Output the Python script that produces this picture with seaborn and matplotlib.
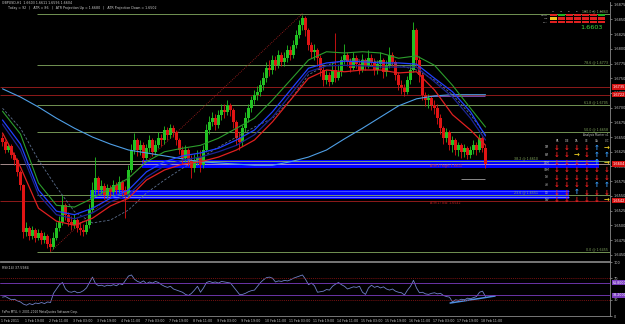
import numpy as np
import pandas as pd
import matplotlib
matplotlib.use("Agg")
import matplotlib.pyplot as plt
from matplotlib.patches import Rectangle
import seaborn as sns

# ---------------- data (2h bars) ----------------
first_open = 1.6648
close = [1.6642, 1.6628, 1.6635, 1.6620, 1.6611, 1.6591, 1.6568, 1.6489, 1.6495, 1.6482,
         1.6492, 1.6478, 1.6487, 1.6475, 1.6482, 1.6468, 1.6463, 1.6478, 1.6495, 1.6506,
         1.6534, 1.6518, 1.6506, 1.6500, 1.6509, 1.6495, 1.6492, 1.6489, 1.6500, 1.6526,
         1.6560, 1.6580, 1.6560, 1.6567, 1.6552, 1.6563, 1.6557, 1.6568, 1.6560, 1.6574,
         1.6560, 1.6552, 1.6594, 1.6628, 1.6645, 1.6628, 1.6636, 1.6614, 1.6631, 1.6645,
         1.6625, 1.6636, 1.6648, 1.6645, 1.6662, 1.6654, 1.6665, 1.6659, 1.6645, 1.6628,
         1.6614, 1.6628, 1.6611, 1.6597, 1.6611, 1.6614, 1.6602, 1.6628, 1.6662, 1.6676,
         1.6682, 1.6670, 1.6688, 1.6696, 1.6693, 1.6704, 1.6696, 1.6676, 1.6648, 1.6642,
         1.6665, 1.6682, 1.6699, 1.6713, 1.6722, 1.6727, 1.6738, 1.6750, 1.6767, 1.6764,
         1.6781, 1.6772, 1.6790, 1.6778, 1.6784, 1.6798, 1.6790, 1.6806, 1.6824, 1.6840,
         1.6852, 1.6832, 1.6806, 1.6795, 1.6798, 1.6784, 1.6764, 1.6747, 1.6756, 1.6744,
         1.6764, 1.6750, 1.6761, 1.6781, 1.6790, 1.6778, 1.6767, 1.6784, 1.6774, 1.6764,
         1.6781, 1.6771, 1.6784, 1.6778, 1.6764, 1.6774, 1.6781, 1.6761, 1.6772, 1.6790,
         1.6778, 1.6756, 1.6738, 1.6733, 1.6727, 1.6747, 1.6764, 1.6832, 1.6781, 1.6756,
         1.6722, 1.6713, 1.6716, 1.6704, 1.6699, 1.6682, 1.6665, 1.6648, 1.6659, 1.6636,
         1.6645, 1.6628, 1.6636, 1.6625, 1.6631, 1.6620, 1.6628, 1.6636, 1.6628, 1.6648,
         1.6631, 1.6604]
high = [1.6655, 1.6645, 1.6640, 1.6638, 1.6625, 1.6614, 1.6594, 1.6570, 1.6506, 1.6499,
        1.6499, 1.6495, 1.6494, 1.6492, 1.6489, 1.6485, 1.6478, 1.6489, 1.6506, 1.6516,
        1.6552, 1.6538, 1.6523, 1.6516, 1.6519, 1.6512, 1.6506, 1.6502, 1.6509, 1.6536,
        1.6574, 1.6616, 1.6584, 1.6577, 1.6572, 1.6570, 1.6568, 1.6577, 1.6574, 1.6584,
        1.6577, 1.6567, 1.6602, 1.6638, 1.6657, 1.6648, 1.6645, 1.6642, 1.6638, 1.6654,
        1.6648, 1.6645, 1.6659, 1.6655, 1.6669, 1.6667, 1.6672, 1.6670, 1.6662, 1.6648,
        1.6635, 1.6636, 1.6631, 1.6620, 1.6621, 1.6628, 1.6628, 1.6636, 1.6672, 1.6686,
        1.6693, 1.6689, 1.6696, 1.6706, 1.6706, 1.6713, 1.6708, 1.6699, 1.6679, 1.6659,
        1.6670, 1.6693, 1.6706, 1.6720, 1.6730, 1.6737, 1.6747, 1.6761, 1.6778, 1.6781,
        1.6790, 1.6788, 1.6798, 1.6795, 1.6795, 1.6806, 1.6805, 1.6815, 1.6832, 1.6849,
        1.6858, 1.6856, 1.6835, 1.6812, 1.6808, 1.6801, 1.6790, 1.6771, 1.6764, 1.6761,
        1.6778, 1.6827, 1.6774, 1.6788, 1.6808, 1.6795, 1.6784, 1.6795, 1.6790, 1.6781,
        1.6791, 1.6784, 1.6798, 1.6791, 1.6784, 1.6781, 1.6795, 1.6784, 1.6781, 1.6803,
        1.6795, 1.6781, 1.6761, 1.6747, 1.6740, 1.6754, 1.6774, 1.6846, 1.6835, 1.6788,
        1.6761, 1.6727, 1.6723, 1.6720, 1.6713, 1.6706, 1.6689, 1.6669, 1.6665, 1.6662,
        1.6652, 1.6648, 1.6642, 1.6640, 1.6638, 1.6635, 1.6635, 1.6645, 1.6642, 1.6655,
        1.6652, 1.6636]
low = [1.6635, 1.6623, 1.6625, 1.6614, 1.6602, 1.6584, 1.6560, 1.6478, 1.6482, 1.6475,
       1.6477, 1.6472, 1.6475, 1.6468, 1.6470, 1.6461, 1.6456, 1.6460, 1.6475, 1.6490,
       1.6500, 1.6509, 1.6499, 1.6492, 1.6495, 1.6489, 1.6484, 1.6482, 1.6485, 1.6495,
       1.6523, 1.6553, 1.6552, 1.6553, 1.6545, 1.6546, 1.6548, 1.6552, 1.6553, 1.6555,
       1.6550, 1.6512, 1.6546, 1.6591, 1.6621, 1.6618, 1.6620, 1.6608, 1.6611, 1.6625,
       1.6618, 1.6620, 1.6631, 1.6635, 1.6638, 1.6645, 1.6648, 1.6650, 1.6636, 1.6621,
       1.6606, 1.6608, 1.6601, 1.6580, 1.6591, 1.6602, 1.6591, 1.6597, 1.6625, 1.6655,
       1.6669, 1.6662, 1.6665, 1.6679, 1.6682, 1.6688, 1.6686, 1.6665, 1.6636, 1.6628,
       1.6635, 1.6659, 1.6676, 1.6693, 1.6706, 1.6713, 1.6720, 1.6730, 1.6744, 1.6754,
       1.6757, 1.6764, 1.6767, 1.6771, 1.6771, 1.6778, 1.6781, 1.6784, 1.6801, 1.6818,
       1.6832, 1.6822, 1.6798, 1.6784, 1.6781, 1.6771, 1.6754, 1.6737, 1.6740, 1.6737,
       1.6740, 1.6744, 1.6747, 1.6754, 1.6774, 1.6771, 1.6761, 1.6764, 1.6767, 1.6757,
       1.6761, 1.6764, 1.6767, 1.6771, 1.6756, 1.6757, 1.6767, 1.6750, 1.6754, 1.6767,
       1.6771, 1.6747, 1.6730, 1.6723, 1.6720, 1.6723, 1.6740, 1.6761, 1.6771, 1.6744,
       1.6713, 1.6703, 1.6699, 1.6696, 1.6689, 1.6672, 1.6655, 1.6638, 1.6642, 1.6628,
       1.6625, 1.6620, 1.6618, 1.6614, 1.6616, 1.6613, 1.6614, 1.6621, 1.6620, 1.6625,
       1.6625, 1.6597]

# moving averages, read every 6th bar
ma_idx = list(range(0, 162, 6)) + [161]
ma_high = [1.6694, 1.6655, 1.6572, 1.6534, 1.6531, 1.6546, 1.6563, 1.6580, 1.6608, 1.6625,
           1.6631, 1.6636, 1.6648, 1.6665, 1.6682, 1.6713, 1.6747, 1.6781, 1.6795, 1.6793,
           1.6795, 1.6793, 1.6784, 1.6788, 1.6772, 1.6738, 1.6699, 1.6667]
ma_close = [1.6679, 1.6638, 1.6560, 1.6524, 1.6518, 1.6529, 1.6546, 1.6560, 1.6591, 1.6608,
            1.6618, 1.6623, 1.6631, 1.6645, 1.6662, 1.6693, 1.6730, 1.6767, 1.6776, 1.6779,
            1.6778, 1.6776, 1.6776, 1.6774, 1.6750, 1.6727, 1.6693, 1.6652]
ma_mid = [1.6672, 1.6628, 1.6552, 1.6518, 1.6511, 1.6521, 1.6540, 1.6552, 1.6582, 1.6601,
          1.6611, 1.6616, 1.6625, 1.6636, 1.6654, 1.6684, 1.6722, 1.6761, 1.6771, 1.6772,
          1.6771, 1.6769, 1.6769, 1.6769, 1.6744, 1.6718, 1.6682, 1.6645]
ma_low = [1.6657, 1.6599, 1.6529, 1.6507, 1.6500, 1.6512, 1.6533, 1.6546, 1.6577, 1.6594,
          1.6604, 1.6608, 1.6616, 1.6628, 1.6645, 1.6676, 1.6713, 1.6750, 1.6764, 1.6761,
          1.6764, 1.6764, 1.6759, 1.6761, 1.6730, 1.6688, 1.6662, 1.6636]
ma_dash = [1.6699, 1.6665, 1.6611, 1.6565, 1.6523, 1.6504, 1.6509, 1.6526, 1.6555, 1.6577,
           1.6597, 1.6614, 1.6633, 1.6650, 1.6667, 1.6682, 1.6713, 1.6756, 1.6772, 1.6781,
           1.6781, 1.6778, 1.6772, 1.6764, 1.6747, 1.6722, 1.6688, 1.6654]
ma_long = [1.6732, 1.6718, 1.6701, 1.6682, 1.6665, 1.6650, 1.6638, 1.6628, 1.6623, 1.6618,
           1.6613, 1.6608, 1.6606, 1.6604, 1.6602, 1.6602, 1.6608, 1.6616, 1.6628, 1.6647,
           1.6665, 1.6684, 1.6703, 1.6715, 1.6720, 1.6722, 1.6722, 1.6722]

fib_pct = [0.0, 23.6, 38.2, 50.0, 61.8, 78.6, 100.0]
fib_price = [1.6455, 1.6551, 1.6610, 1.6658, 1.6705, 1.6773, 1.6860]
fib_low_bar, fib_high_bar = 16, 100

red_levels = [1.6735, 1.6722, 1.6542]
bid = 1.6604
zone_high = [1.6611, 1.6597]
zone_low = [1.6560, 1.6545]

rsi = [35, 36, 33, 30, 31, 28, 26, 22, 20, 23, 21, 24, 23, 25, 23, 26, 25, 42, 50, 58,
       62, 50, 45, 44, 46, 43, 44, 47, 52, 62, 72, 60, 56, 57, 55, 57, 56, 58, 56, 60,
       58, 66, 74, 76, 68, 64, 62, 65, 60, 63, 61, 64, 62, 58, 55, 53, 55, 50, 48, 46,
       44, 40, 38, 42, 48, 55, 44, 52, 62, 64, 62, 63, 61, 64, 63, 62, 61, 54, 47, 40,
       40, 42, 45, 47, 48, 55, 62, 67, 71, 72, 70, 63, 65, 64, 66, 65, 67, 70, 72, 74,
       76, 68, 58, 61, 56, 44, 45, 46, 49, 48, 55, 59, 62, 58, 55, 50, 52, 54, 53, 55,
       44, 40, 52, 57, 53, 55, 52, 54, 50, 48, 50, 46, 44, 43, 39, 48, 55, 66, 52, 43,
       44, 41, 40, 42, 43, 41, 42, 38, 36, 35, 26, 30, 29, 31, 30, 33, 32, 34, 36, 44,
       46, 36]
rsi_trend_x = [149.2, 164.2]
rsi_trend_y = [24, 37]

time_labels = ["1 Feb 2011", "1 Feb 19:00", "2 Feb 11:00", "3 Feb 03:00", "3 Feb 19:00",
               "4 Feb 11:00", "7 Feb 03:00", "7 Feb 19:00", "8 Feb 11:00", "9 Feb 03:00",
               "9 Feb 19:00", "10 Feb 11:00", "11 Feb 03:00", "11 Feb 19:00", "14 Feb 11:00",
               "15 Feb 03:00", "15 Feb 19:00", "16 Feb 11:00", "17 Feb 03:00", "17 Feb 19:00",
               "18 Feb 11:00"]

tf_rows = ["1M", "5M", "15M", "30M", "1H", "4H", "1D", "1W"]
tf_cols = ["PA", "DIE", "TA", "CE", "CA", "C/C"]
signals = ["DDDDUR", "DDRDUU", "DDDDUR", "DDDDDD", "DDDDDD", "DDDDUU", "DDUDDD", "DDDDDR"]

box_cols = ["M1", "M5", "15", "30", "H1", "H4", "D1"]
box_rows = ["MACD", "STR", "EMA"]
box_state = ["RGRRRRG", "YRRRRRR", "RRRRRRR"]

# ---------------- style ----------------
sns.set_style("dark", {"axes.facecolor": "black", "figure.facecolor": "black",
                       "axes.edgecolor": "#8a8a8a", "text.color": "#d0d0d0",
                       "xtick.color": "#c8c8c8", "ytick.color": "#c8c8c8"})
plt.rcParams["font.family"] = ["DejaVu Sans"]

bull, bear = "#22c322", "#e01414"
fib_col = "#84aa60"

fig = plt.figure(figsize=(6.25, 3.24), dpi=100, facecolor="black")
ax = fig.add_axes([0, 63 / 324, 610 / 625, 259 / 324])
rax = fig.add_axes([0, 8 / 324, 610 / 625, 54 / 324])

df = pd.DataFrame({"close": close, "high": high, "low": low})
df["open"] = [first_open] + close[:-1]
df["col"] = np.where(df["close"] >= df["open"], bull, bear)

xmin, xmax = -0.83, 202.5

# zones
for top, bot, start, end in [(zone_high[0], zone_high[1], 46.5, 199), (zone_low[0], zone_low[1], 29.2, 189)]:
    ax.add_patch(Rectangle((start, bot), end - start, top - bot, fc="#0000ff", ec="none", zorder=1))
    ax.hlines(top - 0.00015, start, end, color="#4a5cff", lw=0.6, zorder=1)
ax.hlines(zone_low[1] + 0.00025, 29.2, 189, color="#9fb0ff", lw=0.5, zorder=1)

# horizontal levels
ax.hlines(fib_price, 11.5, xmax, color=fib_col, lw=0.6, zorder=1.5)
ax.hlines(red_levels, xmin, xmax, color="#8e1a1a", lw=0.7, zorder=1.5)
ax.hlines(bid, xmin, xmax, color="#e6c2c2", lw=0.5, zorder=1.6)
ax.plot([fib_low_bar, fib_high_bar], [fib_price[0], fib_price[-1]], color="#b02020",
        lw=0.6, ls=(0, (1, 1.5)), zorder=1.5)
ax.hlines(1.6579, 153, 161, color="#a0a0a0", lw=0.6, zorder=1.5)
ax.hlines(1.6720, 143, 161, color="#8a50c0", lw=0.6, zorder=1.5)

# candles
ax.vlines(df.index, df["low"], df["high"], colors=df["col"], lw=0.6, zorder=2)
ax.bar(df.index, df["close"] - df["open"], bottom=df["open"], width=0.7,
       color=df["col"], linewidth=0, zorder=2)

# moving averages
sns.lineplot(x=ma_idx, y=ma_long, ax=ax, color="#4f9fe6", lw=0.8, zorder=3)
sns.lineplot(x=ma_idx, y=ma_dash, ax=ax, color="#5c6f8e", lw=0.6, zorder=3)
ax.lines[-1].set_linestyle((0, (3, 2)))
sns.lineplot(x=ma_idx, y=ma_high, ax=ax, color="#2c9e2c", lw=0.8, zorder=3)
sns.lineplot(x=ma_idx, y=ma_close, ax=ax, color="#2040ff", lw=0.9, zorder=3)
sns.lineplot(x=ma_idx, y=ma_mid, ax=ax, color="#1c2494", lw=0.9, zorder=3)
sns.lineplot(x=ma_idx, y=ma_low, ax=ax, color="#e02020", lw=0.9, zorder=3)

ax.set_xlim(xmin, xmax)
ax.set_ylim(1.64393, 1.68796)
ax.set_xticks([])
ax.set_xlabel("")
ax.set_ylabel("")
ax.yaxis.tick_right()
pticks = np.arange(1.6450, 1.6876, 0.0025)
ax.set_yticks(pticks)
ax.set_yticklabels([f"{p:.4f}" for p in pticks], fontsize=2.5)
ax.tick_params(axis="y", length=1.5, width=0.4, pad=1)
for s in ["left", "top"]:
    ax.spines[s].set_visible(False)
for s in ["right", "bottom"]:
    ax.spines[s].set_linewidth(0.6)

ytr = ax.get_yaxis_transform()
for p in red_levels + [bid]:
    ax.text(1.004, p, f"{p:.4f}", transform=ytr, fontsize=2.5, color="white", va="center",
            ha="left", bbox=dict(boxstyle="square,pad=0.2", fc="#d41010", ec="none"), zorder=6)
# fib labels sit at the right edge; the ones inside the signal table are pulled left of it
fib_label_x = [0.997, 0.882, 0.882, 0.997, 0.997, 0.997, 0.997]
for pct, p, lx in zip(fib_pct, fib_price, fib_label_x):
    ax.text(lx, p + 0.0001, f"{pct:.1f} @ {p:.4f}", transform=ytr, fontsize=2.3,
            color=fib_col, ha="right", va="bottom", zorder=6)
ax.text(142.5, zone_high[1] + 0.0004, f"ATR(1) high: {zone_high[0]:.4f}", fontsize=2.3,
        color="#d03030", va="center", zorder=6)
ax.text(142.5, zone_low[1] - 0.0007, f"ATR(1) low: {red_levels[2]:.4f}", fontsize=2.3,
        color="#b02020", va="center", zorder=6)

# header texts
fig.text(0.003, 1 - 3 / 324, "GBPUSD,H1  1.6603 1.6611 1.6596 1.6604", fontsize=2.3,
         color="#d0d0d0", va="center")
fig.text(0.012, 1 - 7.5 / 324,
         "Today = 92   |   ATR = 86   |   ATR Projection Up = 1.6680   |   ATR Projection Down = 1.6502",
         fontsize=2.3, color="#d0d0d0", va="center")

# top right signal box
fig.text(603 / 625, 1 - 27.5 / 324, "1.6603", fontsize=4.6, color="#40e040", ha="right", va="center")
for c, lab in enumerate(box_cols):
    fig.text((553 + 8 * c) / 625, 1 - 11.5 / 324, lab, fontsize=1.5, color="#c0c0c0", ha="center", va="center")
state_col = {"R": "#e02020", "G": "#20b020", "Y": "#f0c020"}
for r, lab in enumerate(box_rows):
    fig.text(548 / 625, 1 - (15 + 3.5 * r) / 324, lab, fontsize=1.6, color="#c0c0c0", ha="right", va="center")
    for c, st in enumerate(box_state[r]):
        fig.patches.append(Rectangle(((550 + 8 * c) / 625, 1 - (16.3 + 3.5 * r) / 324), 6.5 / 625, 2.6 / 324,
                                     fc=state_col[st], ec="none", transform=fig.transFigure, figure=fig))

# arrow table
arrow = {"D": ("\u2193", "#f02020"), "U": ("\u2191", "#3aa0ff"), "R": ("\u2192", "#f0d020")}
fig.text(609 / 625, 1 - 135 / 324, "Analysis Master v1", fontsize=2.0, color="#c0c0c0", ha="right", va="center")
for c, lab in enumerate(tf_cols):
    fig.text((557 + 10 * c) / 625, 1 - 141 / 324, lab, fontsize=2.0, color="#c0c0c0", ha="center", va="center")
for r, lab in enumerate(tf_rows):
    yy = 1 - (147.5 + 7.5 * r) / 324
    fig.text(547 / 625, yy, lab, fontsize=2.0, color="#c0c0c0", ha="center", va="center")
    for c, st in enumerate(signals[r]):
        g, colr = arrow[st]
        fig.text((557 + 10 * c) / 625, yy, g, fontsize=5.0, color=colr, ha="center", va="center",
                 fontweight="bold")

# ---------------- RSI panel ----------------
sns.lineplot(x=list(range(len(rsi))), y=rsi, ax=rax, color="#6f80c8", lw=0.6)
sns.lineplot(x=rsi_trend_x, y=rsi_trend_y, ax=rax, color="#4f8fe0", lw=1.1)
rax.axhline(70, color="#a01818", lw=0.5, ls=(0, (1.5, 1.5)))
rax.axhline(30, color="#a01818", lw=0.5, ls=(0, (1.5, 1.5)))
rax.axhline(61.8, color="#7a3cc0", lw=0.6)
rax.axhline(38.2, color="#7a3cc0", lw=0.6)
rax.set_xlim(xmin, xmax)
rax.set_ylim(0, 100)
rax.yaxis.tick_right()
rax.set_yticks([0, 30, 70, 100])
rax.set_yticklabels(["0", "30", "70", "100"], fontsize=2.5)
rax.tick_params(axis="y", length=1.5, width=0.4, pad=1)
rytr = rax.get_yaxis_transform()
for v in [61.8, 38.2]:
    rax.text(1.004, v, f"{v:.4f}", transform=rytr, fontsize=2.3, color="white", va="center", ha="left",
             bbox=dict(boxstyle="square,pad=0.2", fc="#7a3cc0", ec="none"))
tick_pos = [8 * k - 0.5 for k in range(len(time_labels))]
rax.set_xticks(tick_pos)
rax.set_xticklabels(time_labels, fontsize=2.3, ha="left")
rax.tick_params(axis="x", length=1.5, width=0.4, pad=0.8)
rax.set_xlabel("")
rax.set_ylabel("")
rax.spines["left"].set_visible(False)
for s in ["right", "bottom", "top"]:
    rax.spines[s].set_linewidth(0.6)
rax.text(0.003, 0.93, "RSI(14) 37.5984", transform=rax.transAxes, fontsize=2.3, color="#d0d0d0", va="top")
rax.text(0.003, 0.04, "FxPro MT4, \u00a9 2001-2010 MetaQuotes Software Corp.", transform=rax.transAxes,
         fontsize=2.1, color="#d0d0d0", va="bottom")

fig.savefig("out.png", dpi=100, facecolor="black")
